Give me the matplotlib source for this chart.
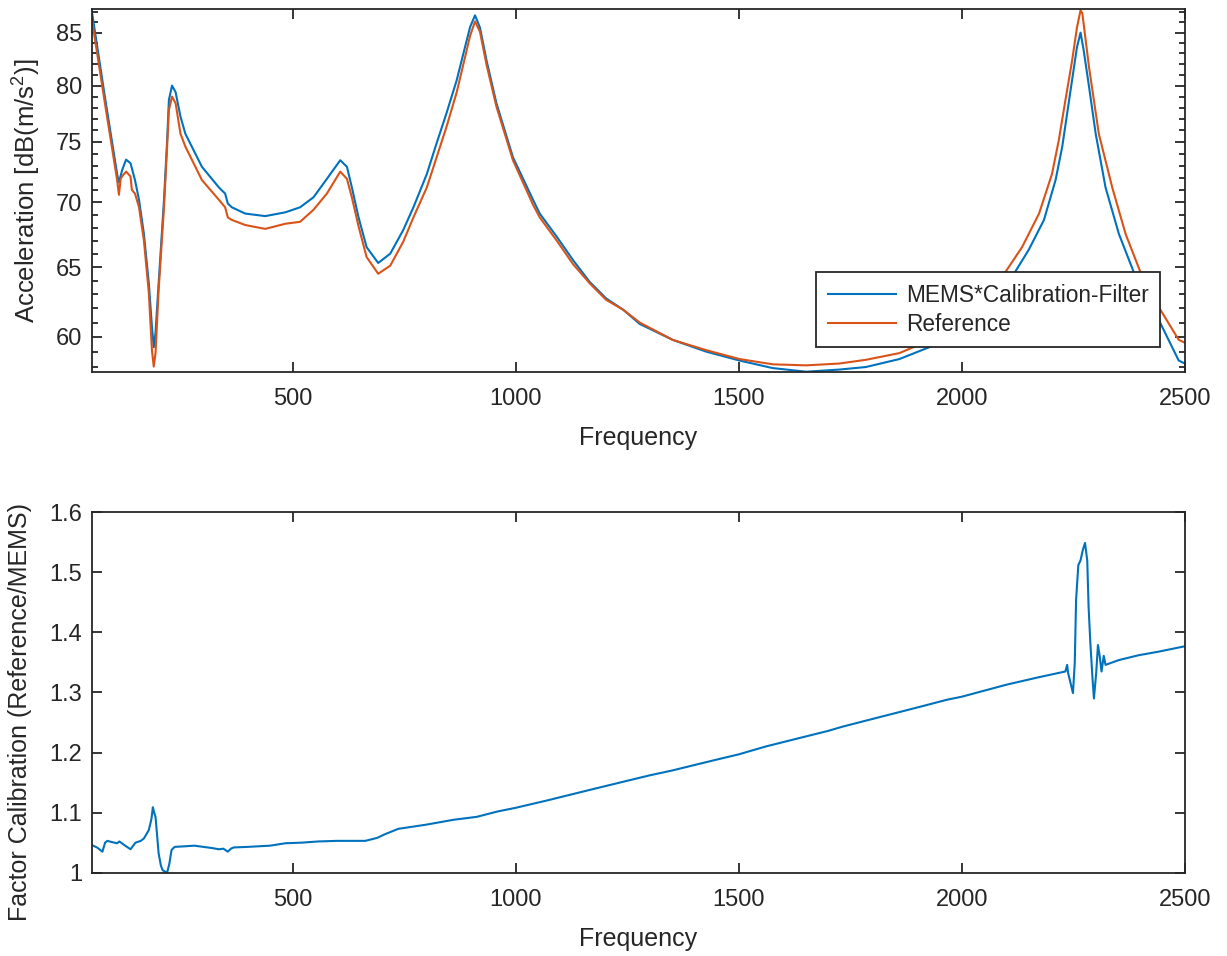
import matplotlib
matplotlib.use('Agg')
import matplotlib.pyplot as plt
import matplotlib.ticker as ticker

# top plot: acceleration spectra (frequency in Hz, level in dB)
mems_freq = [50, 80, 107, 111, 118, 127, 137, 147, 156, 167, 178, 185, 189, 193, 200,
             212, 219, 223, 230, 238, 249, 260, 297, 335, 349, 355, 364, 394, 439, 484,
             517, 547, 577, 607, 622, 633, 648, 666, 692, 719, 748, 771, 801, 823, 845,
             868, 883, 898, 909, 920, 935, 957, 994, 1039, 1054, 1092, 1129, 1166, 1203,
             1241, 1278, 1352, 1427, 1502, 1576, 1651, 1725, 1785, 1860, 1927, 2000,
             2060, 2113, 2150, 2184, 2210, 2225, 2236, 2247, 2258, 2266, 2273, 2285,
             2300, 2322, 2352, 2389, 2441, 2486, 2500]
mems_db = [87.2, 78.85, 72.3, 71.6, 72.6, 73.5, 73.2, 71.8, 70.2, 67.5, 63.8, 60.7, 59.3, 60.3, 63.8,
           70.2, 75.1, 78.7, 80.0, 79.4, 77.2, 75.7, 72.9, 71.2, 70.7, 69.9, 69.6, 69.1, 68.9, 69.2,
           69.6, 70.4, 71.9, 73.45, 72.9, 71.2, 68.8, 66.5, 65.3, 66.0, 67.8, 69.6, 72.3, 74.9, 77.5,
           80.5, 83.0, 85.55, 86.7, 85.5, 82.3, 78.4, 73.7, 70.2, 69.1, 67.3, 65.5, 63.9, 62.7,
           61.9, 60.9, 59.8, 59.0, 58.4, 57.9, 57.66, 57.8, 57.97, 58.5, 59.3, 60.6,
           62.3, 64.3, 66.3, 68.6, 71.8, 74.6, 77.5, 80.5, 83.6, 85.0, 83.3, 79.9,
           75.7, 71.2, 67.5, 64.3, 61.2, 58.4, 58.2]

ref_freq = [50, 80, 107, 111, 115, 118, 127, 137, 140, 147, 156, 167, 178, 185, 189, 193, 200,
            212, 219, 223, 230, 238, 249, 260, 297, 335, 349, 355, 364, 394, 439, 484,
            517, 547, 577, 607, 622, 633, 648, 666, 692, 719, 748, 771, 801, 823, 845,
            868, 883, 898, 909, 920, 935, 957, 994, 1039, 1054, 1092, 1129, 1166, 1203,
            1241, 1278, 1352, 1427, 1502, 1576, 1651, 1725, 1785, 1860, 1930, 2009,
            2050, 2091, 2135, 2173, 2202, 2217, 2232, 2247, 2258, 2266, 2270, 2285,
            2307, 2337, 2367, 2404, 2441, 2486, 2500]
ref_db = [86.4, 78.3, 71.8, 70.6, 71.9, 72.1, 72.5, 72.1, 71.0, 70.7, 69.6, 67.0, 63.1, 59.1, 58.0, 58.9, 63.3,
          69.6, 74.6, 77.8, 79.0, 78.4, 75.7, 74.6, 71.8, 70.2, 69.6, 68.8, 68.6, 68.2, 67.9, 68.3,
          68.45, 69.4, 70.7, 72.5, 71.9, 70.4, 68.1, 65.75, 64.5, 65.1, 66.9, 68.8, 71.2, 73.7, 76.3,
          79.4, 82.0, 84.7, 86.1, 85.1, 81.9, 78.1, 73.45, 69.8, 68.8, 67.0, 65.2, 63.8, 62.6,
          61.9, 61.0, 59.8, 59.1, 58.5, 58.15, 58.08, 58.2, 58.45, 58.9, 59.8, 61.3,
          62.7, 64.3, 66.5, 69.1, 72.3, 75.1, 78.65, 82.3, 85.5, 87.2, 86.9, 81.7,
          75.7, 71.2, 67.5, 64.3, 62.1, 59.8, 59.6]

# bottom plot: calibration factor
fac_freq = [50, 62, 74, 80, 85, 95, 107, 112, 125, 137, 148, 160, 167, 178, 184, 187, 190,
            193, 200, 205, 209, 219, 224, 229, 236, 260, 280, 300, 320, 335, 345, 355, 362,
            368, 400, 450, 484, 520, 558, 600, 663, 690, 707, 737, 800, 860, 913, 960, 1000,
            1069, 1167, 1250, 1300, 1350, 1449, 1500, 1560, 1635, 1700, 1732, 1800, 1900,
            1967, 2000, 2100, 2170, 2232, 2236, 2238, 2249, 2253, 2256, 2261, 2266, 2271,
            2276, 2281, 2284, 2288, 2293, 2296, 2301, 2305, 2309, 2313, 2318, 2322, 2352,
            2396, 2441, 2500]
fac_val = [1.046, 1.042, 1.035, 1.050, 1.053, 1.051, 1.049, 1.052, 1.045, 1.039, 1.050, 1.053,
           1.057, 1.071, 1.090, 1.109, 1.100, 1.093, 1.032, 1.012, 1.004, 1.000, 1.015, 1.038,
           1.043, 1.044, 1.045, 1.043, 1.041, 1.039, 1.040, 1.035, 1.040, 1.042, 1.043, 1.045,
           1.049, 1.050, 1.052, 1.053, 1.053, 1.058, 1.064, 1.073, 1.080, 1.088, 1.093, 1.102,
           1.108, 1.120, 1.138, 1.153, 1.162, 1.170, 1.188, 1.197, 1.210, 1.224, 1.236, 1.243,
           1.256, 1.275, 1.288, 1.293, 1.313, 1.325, 1.335, 1.346, 1.333, 1.299, 1.349, 1.454,
           1.512, 1.520, 1.537, 1.549, 1.520, 1.443, 1.382, 1.321, 1.290, 1.332, 1.379, 1.360,
           1.335, 1.361, 1.346, 1.354, 1.362, 1.368, 1.377]

db_ticks = [60, 65, 70, 75, 80, 85]
fac_ticks = [1, 1.1, 1.2, 1.3, 1.4, 1.5, 1.6]
fac_ticklabels = ['1', '1.1', '1.2', '1.3', '1.4', '1.5', '1.6']
freq_ticks = [500, 1000, 1500, 2000, 2500]

plt.rcParams['font.family'] = ['Liberation Sans', 'DejaVu Sans']
plt.rcParams['mathtext.default'] = 'regular'
txt = '#262626'

fig = plt.figure(figsize=(12.27, 9.56), dpi=100)
ax1 = fig.add_axes([0.07474, 0.61119, 0.8910, 0.37908])
ax2 = fig.add_axes([0.07474, 0.08714, 0.8910, 0.37699])

ax1.plot(mems_freq, mems_db, color='#0072BD', lw=1.5, label='MEMS*Calibration-Filter')
ax1.plot(ref_freq, ref_db, color='#D95319', lw=1.5, label='Reference')
ax1.set_yscale('log')
ax1.set_xlim(50, 2500)
ax1.set_ylim(57.66, 87.3)
ax1.yaxis.set_major_locator(ticker.FixedLocator(db_ticks))
ax1.yaxis.set_major_formatter(ticker.FixedFormatter([str(t) for t in db_ticks]))
ax1.yaxis.set_minor_locator(ticker.FixedLocator([v for v in range(58, 88) if v % 5 != 0]))
ax1.yaxis.set_minor_formatter(ticker.NullFormatter())
ax1.set_xticks(freq_ticks)
ax1.set_xlabel('Frequency', fontsize=18, color=txt)
ax1.set_ylabel(r'Acceleration [dB(m/s$^{2}$)]', fontsize=18.5, color=txt)
ax1.yaxis.set_label_coords(-0.0441, 0.5)
ax1.xaxis.set_label_coords(0.5, -0.149)

leg = ax1.legend(loc='lower right', bbox_to_anchor=(0.9771, 0.0673), borderaxespad=0,
                 fancybox=False, edgecolor=txt, framealpha=1, fontsize=16.3,
                 handlelength=3.0, handletextpad=0.45, borderpad=0.5, labelspacing=0.28)
leg.get_frame().set_linewidth(1.3)
for t in leg.get_texts():
    t.set_color(txt)

ax2.plot(fac_freq, fac_val, color='#0072BD', lw=1.5)
ax2.set_xlim(50, 2500)
ax2.set_ylim(1, 1.6)
ax2.set_yticks(fac_ticks)
ax2.set_yticklabels(fac_ticklabels)
ax2.set_xticks(freq_ticks)
ax2.set_xlabel('Frequency', fontsize=18, color=txt)
ax2.set_ylabel('Factor Calibration (Reference/MEMS)', fontsize=18, color=txt)
ax2.yaxis.set_label_coords(-0.0546, 0.447)
ax2.xaxis.set_label_coords(0.5, -0.150)

for ax in (ax1, ax2):
    for s in ax.spines.values():
        s.set_color(txt)
        s.set_linewidth(1.3)
    ax.tick_params(which='both', direction='in', top=True, right=True,
                   colors=txt, labelsize=17, width=1.3)
    ax.tick_params(which='major', length=7)
    ax.tick_params(which='minor', length=4)
    ax.tick_params(axis='x', pad=12)
    ax.tick_params(axis='y', pad=7)

fig.savefig('out.png', dpi=100)
